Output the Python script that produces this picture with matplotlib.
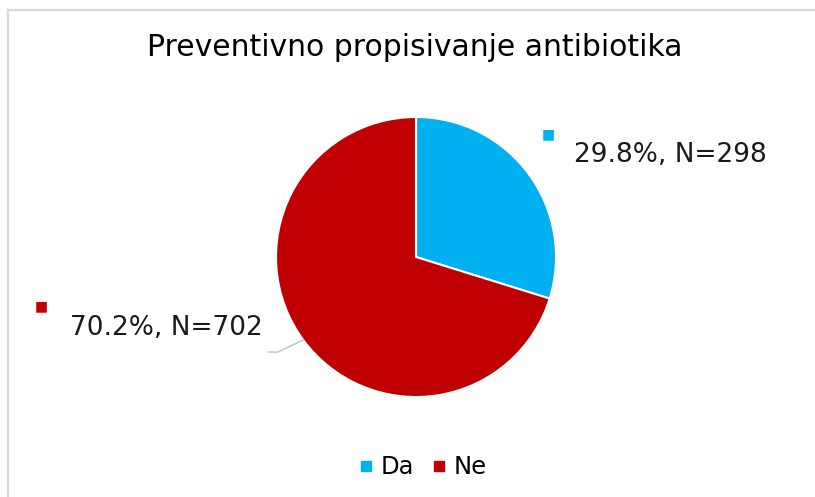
import math

import matplotlib.pyplot as plt
from matplotlib.lines import Line2D

categories = ['Da', 'Ne']
percents = [29.8, 70.2]
counts = [298, 702]
colors = ['#00B0F0', '#C00000']

fig = plt.figure(figsize=(8.15, 4.97), dpi=100)

# pie axes placed so that radius 1 is ~140 px
ax = fig.add_axes([276 / 815, 100 / 497, 280 / 815, 280 / 497])
wedges, _ = ax.pie(percents, colors=colors, startangle=90, counterclock=False,
                   radius=1, wedgeprops=dict(linewidth=1.5, edgecolor='white'))
ax.set_xlim(-1, 1)
ax.set_ylim(-1, 1)
ax.set_aspect('equal')

labels = [f"{p:.1f}%, N={n}" for p, n in zip(percents, counts)]

# Da label (right, no leader)
ax.text(0.943, 0.879, '\u25A0', color=colors[0], fontsize=10, ha='center', va='center', clip_on=False)
ax.text(1.129, 0.729, labels[0], fontsize=19, ha='left', va='center', color='#1a1a1a', clip_on=False)

# Ne label (left, with leader line to the wedge middle)
w = wedges[1]
mid = math.radians((w.theta1 + w.theta2) / 2)
px, py = math.cos(mid), math.sin(mid)
ax.plot([px, -0.986, -1.057], [py, -0.679, -0.679], color='#BFBFBF', lw=1, clip_on=False)
ax.text(-2.679, -0.35, '\u25A0', color=colors[1], fontsize=10, ha='center', va='center', clip_on=False)
ax.text(-2.471, -0.507, labels[1], fontsize=19, ha='left', va='center', color='#1a1a1a', clip_on=False)

fig.text(0.509, 1 - 48 / 497, 'Preventivno propisivanje antibiotika', fontsize=21.5,
         ha='center', va='center')

handles = [Line2D([], [], marker='s', linestyle='', color=c, markersize=7.5) for c in colors]
fig.legend(handles, categories, loc='center', bbox_to_anchor=(0.517, 0.06), ncol=2,
           frameon=False, fontsize=17.5, handletextpad=0.2, columnspacing=0.6, handlelength=0.8)

# chart border (only left and top visible in the crop)
fig.add_artist(Line2D([8 / 815, 8 / 815], [0, 1 - 9.5 / 497], color='#D9D9D9', lw=1.6))
fig.add_artist(Line2D([8 / 815, 1], [1 - 9.5 / 497, 1 - 9.5 / 497], color='#D9D9D9', lw=1.6))

fig.savefig('out.png', dpi=100)
